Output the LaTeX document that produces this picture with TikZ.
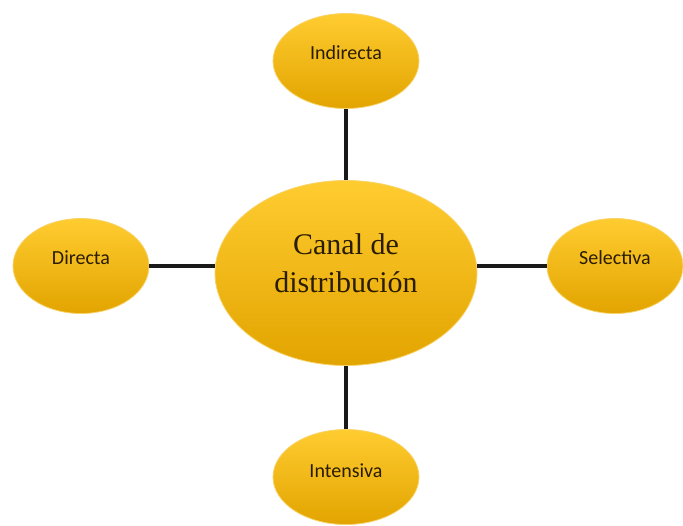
\documentclass[tikz,border=0pt]{standalone}
\usetikzlibrary{shapes.geometric}
\usepackage{fontspec}
\setmainfont{Liberation Serif}
\newfontfamily\calib{Carlito}
\definecolor{goldtop}{HTML}{FFCC30}
\definecolor{goldbot}{HTML}{E2A400}
\definecolor{txtbrown}{HTML}{2A1C00}
\definecolor{rimgold}{HTML}{F7D36A}
\tikzset{
  bubble/.style={ellipse, draw=rimgold, line width=0.8pt, top color=goldtop, bottom color=goldbot, inner sep=0pt},
  small/.style={bubble, minimum width=146pt, minimum height=95pt},
  smalltext/.style={inner sep=0pt, text=txtbrown, font=\calib\fontsize{20}{24}\selectfont},
  bigtext/.style={inner sep=0pt, text=txtbrown, align=center, font=\fontsize{30}{38}\selectfont},
  link/.style={line width=4.5pt, draw=black!90}
}
\begin{document}
\begin{tikzpicture}[x=1pt,y=-1pt]
\useasboundingbox (0,0) rectangle (683,525);
\node[bubble, minimum width=262pt, minimum height=185pt] (c) at (346,273) {};
\node[bigtext] (ct) at (346,263) {Canal de\\distribución};
\node[small] (top) at (346,61) {};
\node[smalltext] (toptext) at (346,53) {Indirecta};
\node[small, minimum width=136pt] (left) at (81,266) {};
\node[smalltext] (lefttext) at (81,258) {Directa};
\node[small, minimum width=136pt] (right) at (615,266) {};
\node[smalltext] (righttext) at (615,258) {Selectiva};
\node[small] (bot) at (346,477) {};
\node[smalltext] (bottext) at (346,471) {Intensiva};
\draw[link] (top) -- (c);
\draw[link] (c) -- (bot);
\draw[link] (left.east) -- (left.east -| c.west);
\draw[link] (right.west) -- (right.west -| c.east);
\end{tikzpicture}
\end{document}
